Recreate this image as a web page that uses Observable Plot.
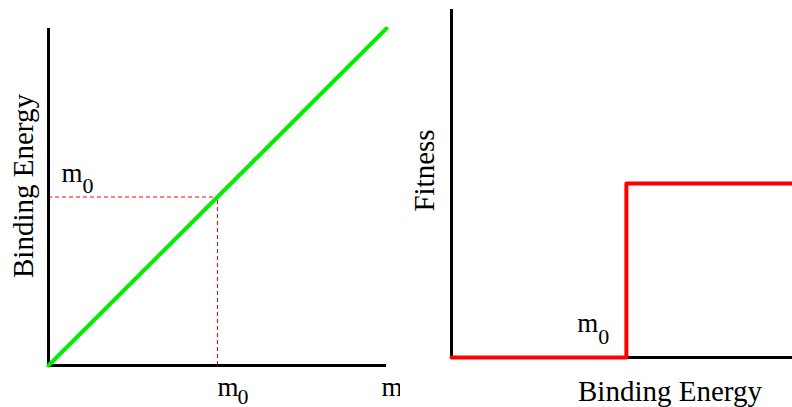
<!DOCTYPE html>
<html>
<head>
<meta charset="utf-8">
<script src="https://cdn.jsdelivr.net/npm/d3@7"></script>
<script src="https://cdn.jsdelivr.net/npm/@observablehq/plot@0.6"></script>
<style>
  html, body { margin: 0; padding: 0; background: white; }
  #wrap { position: relative; width: 792px; height: 407px; overflow: hidden; background: white; }
  #left, #right { position: absolute; top: 0; }
  #left { left: 0; }
  #right { left: 400px; }
  svg { overflow: visible; }
  svg text { font-family: 'Liberation Serif', 'Times New Roman', Times, serif; }
</style>
</head>
<body>
<div id="wrap"><div id="left"></div><div id="right"></div></div>
<script>
// ---- data ----
const m0 = 0.5;                       // threshold mass / binding energy
const massValues = [0, 1];            // m (left panel x)
const bindingValues = [0, 1];         // binding energy (left panel y), linear in m
const energyPoints = [0, m0, m0, 0.975]; // right panel x (binding energy)
const fitnessPoints = [0, 0, 0.5, 0.5];  // right panel y (fitness step)
const axisLabels = { leftY: "Binding Energy", rightY: "Fitness", rightX: "Binding Energy", leftX: "m" };

const serif = "Liberation Serif";
const labelSize = 29, mSize = 27, subSize = 22;

const lineData = massValues.map((m, i) => ({m, e: bindingValues[i]}));
const stepData = energyPoints.map((e, i) => ({e, f: fitnessPoints[i]}));

const T = (o) => ({fontFamily: serif, fill: "black", textAnchor: "start", lineAnchor: "bottom", ...o});

// ---- left panel ----
const left = Plot.plot({
  width: 400, height: 407,
  marginLeft: 48, marginRight: 14, marginTop: 28, marginBottom: 42,
  x: {domain: [0, 1], axis: null},
  y: {domain: [0, 1], axis: null},
  style: {background: "white", overflow: "visible"},
  marks: [
    Plot.ruleY([{x1: 0, x2: m0, y: m0}], {x1: "x1", x2: "x2", y: "y", stroke: "#ff0000", strokeWidth: 1, strokeDasharray: "4,3"}),
    Plot.ruleX([{x: m0, y1: 0, y2: m0}], {x: "x", y1: "y1", y2: "y2", stroke: "#ff0000", strokeWidth: 1, strokeDasharray: "4,3"}),
    Plot.ruleX([0], {stroke: "black", strokeWidth: 3}),
    Plot.ruleY([0], {stroke: "black", strokeWidth: 3}),
    Plot.line(lineData, {x: "m", y: "e", stroke: "#00ee00", strokeWidth: 4}),
    // m0 on y
    Plot.text(["m"], T({x: 0, y: m0, dx: 13, dy: -15, fontSize: mSize})),
    Plot.text(["0"], T({x: 0, y: m0, dx: 34, dy: -4, fontSize: subSize})),
    // m0 on x
    Plot.text(["m"], T({x: m0, y: 0, dx: 0, dy: 30, fontSize: mSize})),
    Plot.text(["0"], T({x: m0, y: 0, dx: 20, dy: 38, fontSize: subSize})),
    // x label "m"
    Plot.text([axisLabels.leftX], T({x: 1, y: 0, dx: -5, dy: 30, fontSize: mSize})),
    // y label
    Plot.text([axisLabels.leftY], T({frameAnchor: "left", dx: -16, dy: -11, rotate: -90, textAnchor: "middle", fontSize: labelSize}))
  ]
});
document.getElementById("left").appendChild(left);

// ---- right panel ----
const right = Plot.plot({
  width: 392, height: 407,
  marginLeft: 51, marginRight: 0, marginTop: 9, marginBottom: 50,
  x: {domain: [0, 0.975], axis: null},
  y: {domain: [0, 1], axis: null},
  style: {background: "white", overflow: "visible"},
  marks: [
    Plot.ruleX([0], {stroke: "black", strokeWidth: 3}),
    Plot.ruleY([0], {stroke: "black", strokeWidth: 3}),
    Plot.line(stepData, {x: "e", y: "f", stroke: "#ff0000", strokeWidth: 4}),
    Plot.text(["m"], T({x: m0, y: 0, dx: -49, dy: -26, fontSize: mSize})),
    Plot.text(["0"], T({x: m0, y: 0, dx: -28, dy: -14, fontSize: subSize})),
    Plot.text([axisLabels.rightY], T({frameAnchor: "left", dx: -18, dy: -13, rotate: -90, textAnchor: "middle", fontSize: labelSize})),
    Plot.text([axisLabels.rightX], T({frameAnchor: "bottom", dx: 48, dy: 43, textAnchor: "middle", fontSize: labelSize}))
  ]
});
document.getElementById("right").appendChild(right);
</script>
</body>
</html>
